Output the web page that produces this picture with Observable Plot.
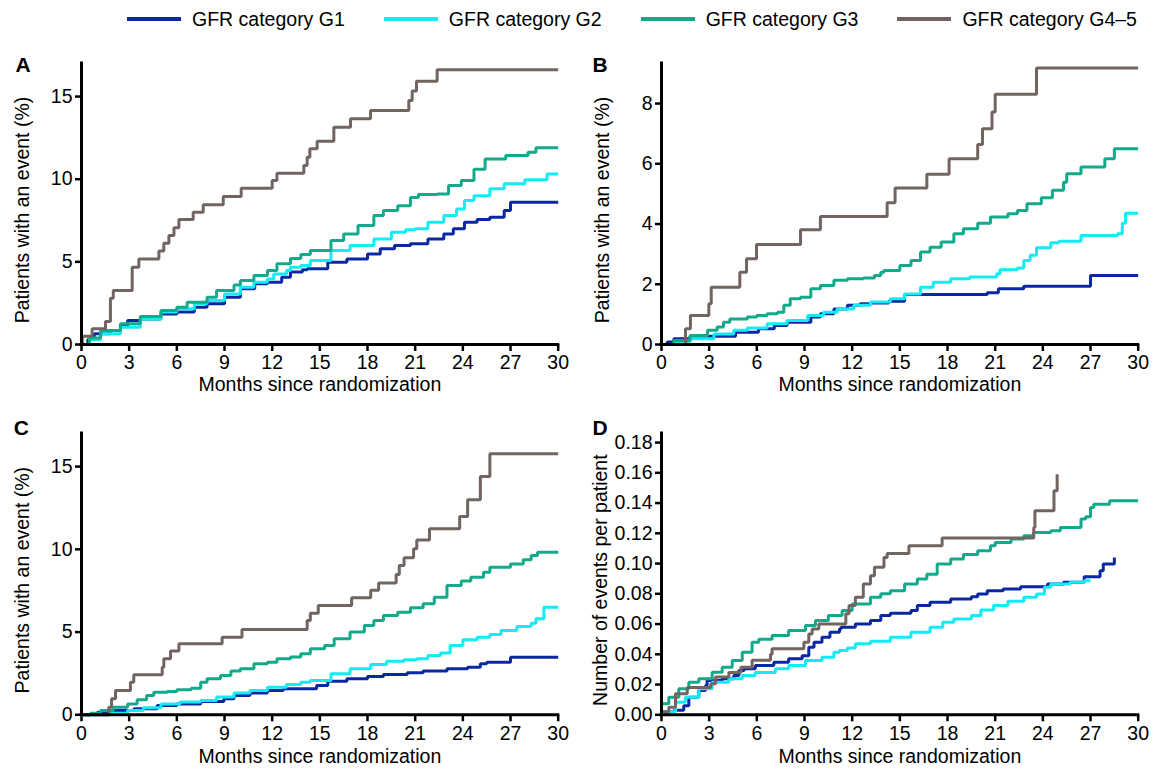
<!DOCTYPE html>
<html>
<head>
<meta charset="utf-8">
<script src="https://cdn.jsdelivr.net/npm/d3@7"></script>
<script src="https://cdn.jsdelivr.net/npm/@observablehq/plot@0.6"></script>
<style>
  html, body { margin: 0; padding: 0; background: #fff; }
  body { width: 1156px; height: 769px; position: relative; overflow: hidden;
         font-family: "Liberation Sans", Arial, sans-serif; color: #000; }
  .panel { position: absolute; }
  #legend { position: absolute; left: 127px; top: 7px; display: flex; align-items: center;
            font-size: 19.5px; line-height: 24px; white-space: nowrap; }
  .item { display: flex; align-items: center; margin-right: 39px; }
  .sw { display: inline-block; width: 54px; height: 4px; margin-right: 11px; }
</style>
</head>
<body>
<div id="legend"></div>
<div id="pA" class="panel" style="left:0px;top:40px"></div>
<div id="pB" class="panel" style="left:580px;top:40px"></div>
<div id="pC" class="panel" style="left:0px;top:410px"></div>
<div id="pD" class="panel" style="left:580px;top:410px"></div>
<script>
// ---------- categories, colors, ticks ----------
const categories = ["GFR category G1", "GFR category G2", "GFR category G3", "GFR category G4\u20135"];
const colors = ["#0b28a3", "#14ecf5", "#13a98b", "#716461"];
const xTicks = [0, 3, 6, 9, 12, 15, 18, 21, 24, 27, 30];
const xLabel = "Months since randomization";
const yLabelPct = "Patients with an event (%)";
const yLabelRate = "Number of events per patient";
const yTicksA = [0, 5, 10, 15];
const yTicksB = [0, 2, 4, 6, 8];
const yTicksC = [0, 5, 10, 15];
const yTicksD = [0, 0.02, 0.04, 0.06, 0.08, 0.10, 0.12, 0.14, 0.16, 0.18];

// ---------- Panel A: [month, %] ----------
const A_G1 = [[0,0],[0.4,0.3],[0.8,0.65],[1.8,0.85],[2.45,1.15],[2.9,1.45],[3.7,1.55],[5.0,1.85],[6.0,1.96],[7.1,2.26],[7.9,2.46],[9.0,2.86],[10.0,3.37],[10.9,3.67],[11.7,3.77],[12.6,4.07],[13.15,4.38],[13.9,4.52],[14.2,4.58],[15.5,4.98],[16.7,5.18],[18.0,5.48],[18.8,5.79],[19.7,5.99],[20.7,6.09],[21.8,6.39],[22.8,6.69],[23.4,7.0],[24.1,7.4],[24.9,7.56],[25.7,7.7],[26.6,8.1],[27.0,8.61],[30,8.61]];
const A_G2 = [[0,0],[0.5,0.3],[1.2,0.65],[2.45,1.05],[3.7,1.55],[5.0,1.96],[6.0,2.16],[7.1,2.46],[7.9,2.66],[9.0,3.06],[10.0,3.47],[10.85,3.77],[11.7,3.97],[12.1,4.27],[12.9,4.48],[13.15,4.68],[13.8,4.78],[14.4,5.08],[15.7,5.69],[16.9,5.99],[18.4,6.39],[19.5,6.79],[20.4,6.94],[21.0,7.0],[21.8,7.4],[22.8,7.8],[23.6,8.2],[24.1,8.71],[24.7,9.0],[25.7,9.42],[26.6,9.72],[27.9,9.96],[29.3,10.32],[30,10.32]];
const A_G3 = [[0,0],[0.5,0.4],[1.2,0.85],[2.45,1.25],[3.7,1.7],[5.0,2.05],[6.0,2.26],[6.65,2.56],[7.9,2.86],[8.5,3.27],[9.6,3.6],[10.0,3.87],[10.85,4.17],[11.7,4.48],[12.3,4.88],[13.15,5.2],[13.8,5.44],[14.4,5.69],[15.7,6.29],[16.5,6.69],[17.4,7.2],[18.4,7.8],[19.0,8.1],[19.9,8.4],[20.7,8.9],[21.2,9.07],[22.4,9.11],[23.1,9.62],[23.9,9.92],[24.7,10.6],[25.4,11.23],[26.7,11.43],[28.1,11.63],[28.6,11.9],[30,11.9]];
const A_G45 = [[0,0],[0.05,0.5],[0.67,0.95],[1.51,1.39],[1.82,2.8],[2.0,3.27],[3.19,4.68],[3.61,5.18],[4.87,5.65],[5.18,6.13],[5.5,6.59],[5.82,7.06],[6.13,7.56],[7.03,8.0],[7.66,8.45],[8.92,8.95],[10.05,9.46],[12.0,9.92],[12.3,10.36],[13.99,10.83],[14.2,11.33],[14.37,11.84],[14.83,12.3],[15.88,13.15],[16.93,13.65],[18.19,14.16],[20.6,14.76],[20.81,15.33],[21.08,15.93],[22.38,16.62],[30,16.62]];

// ---------- Panel B: [month, %] ----------
const B_G1 = [[0,0],[0.36,0.08],[0.78,0.19],[1.8,0.27],[4.66,0.41],[6.1,0.52],[7.1,0.63],[7.9,0.74],[9.4,0.91],[10.0,1.02],[10.85,1.18],[11.7,1.3],[12.5,1.35],[13.15,1.38],[14.3,1.44],[15.3,1.66],[20.5,1.72],[21.2,1.85],[22.8,1.93],[27.0,2.29],[30,2.29]];
const B_G2 = [[0,0],[1.0,0.1],[1.8,0.19],[3.3,0.35],[4.55,0.47],[5.4,0.55],[6.65,0.69],[7.9,0.8],[9.2,0.96],[10.2,1.07],[11.05,1.18],[12.1,1.3],[13.15,1.41],[14.4,1.52],[15.3,1.68],[16.3,1.9],[17.1,2.07],[18.2,2.18],[19.4,2.24],[21.1,2.35],[21.3,2.48],[22.4,2.54],[22.8,2.79],[23.2,2.96],[23.6,3.21],[24.5,3.38],[25.0,3.43],[26.4,3.62],[28.7,3.68],[29.0,4.03],[29.2,4.36],[30,4.36]];
const B_G3 = [[0,0],[0.78,0.13],[1.8,0.3],[2.9,0.47],[3.5,0.58],[3.9,0.74],[4.3,0.85],[5.4,0.91],[6.0,0.96],[6.65,1.02],[7.3,1.07],[7.7,1.3],[8.1,1.52],[8.75,1.57],[9.4,1.85],[10.0,1.96],[10.85,2.13],[11.7,2.18],[12.7,2.21],[13.4,2.29],[13.8,2.4],[14.0,2.46],[15.0,2.62],[15.7,2.79],[16.3,3.07],[16.9,3.23],[17.6,3.4],[18.4,3.68],[19.0,3.84],[19.9,4.03],[20.7,4.23],[21.8,4.34],[22.4,4.45],[23.0,4.67],[23.9,4.87],[24.6,5.12],[25.3,5.39],[25.5,5.67],[26.4,5.89],[27.9,6.17],[28.5,6.5],[30,6.5]];
const B_G45 = [[0,0],[1.51,0.52],[1.82,0.96],[2.98,1.35],[3.13,1.9],[4.93,2.4],[5.35,2.85],[5.98,3.32],[8.75,3.81],[10.0,4.25],[14.2,4.71],[14.7,5.2],[16.7,5.65],[18.1,6.17],[19.9,6.64],[20.2,7.16],[20.8,7.72],[21.0,8.31],[23.6,9.18],[30,9.18]];

// ---------- Panel C: [month, %] ----------
const C_G1 = [[0,0],[0.57,0.06],[1.0,0.16],[1.8,0.26],[3.3,0.36],[4.76,0.56],[6.0,0.66],[7.5,0.8],[8.96,0.97],[9.6,1.17],[10.6,1.31],[11.7,1.47],[12.7,1.57],[14.8,1.77],[15.5,2.03],[16.7,2.18],[18.0,2.32],[19.0,2.44],[20.5,2.54],[21.5,2.64],[23.0,2.78],[24.3,2.88],[25.1,3.08],[25.5,3.18],[27.0,3.48],[30,3.48]];
const C_G2 = [[0,0],[1.8,0.1],[2.9,0.26],[3.9,0.42],[5.0,0.66],[6.2,0.77],[7.5,0.87],[8.5,1.07],[9.6,1.31],[10.6,1.47],[11.7,1.67],[12.9,1.83],[13.8,1.97],[14.4,2.07],[15.7,2.48],[16.9,2.78],[18.2,3.04],[19.2,3.24],[20.3,3.32],[21.1,3.38],[21.8,3.58],[22.6,3.73],[23.2,4.19],[24.0,4.53],[24.9,4.69],[25.7,4.85],[26.4,5.1],[27.4,5.34],[28.3,5.54],[28.6,5.8],[29.1,6.5],[30,6.5]];
const C_G3 = [[0,0],[0.57,0.1],[1.2,0.26],[2.0,0.46],[2.9,0.66],[3.5,0.91],[4.1,1.17],[4.55,1.37],[5.4,1.41],[6.0,1.51],[6.9,1.61],[7.5,1.97],[7.9,2.18],[8.75,2.38],[9.4,2.64],[10.0,2.78],[10.85,3.08],[11.7,3.18],[12.3,3.38],[13.15,3.5],[13.8,3.69],[14.4,3.99],[15.3,4.19],[15.9,4.59],[16.9,5.0],[17.8,5.4],[18.4,5.7],[19.0,6.0],[19.9,6.2],[20.7,6.47],[21.5,6.71],[22.2,7.11],[23.0,7.81],[23.9,8.08],[24.5,8.32],[25.3,8.62],[25.7,8.92],[27.0,9.12],[27.8,9.37],[28.3,9.63],[28.7,9.83],[30,9.83]];
const C_G45 = [[0,0],[1.72,0.46],[1.89,0.97],[2.14,1.47],[3.08,1.97],[3.29,2.42],[5.08,2.88],[5.18,3.38],[5.6,3.85],[6.13,4.29],[8.85,4.69],[10.1,5.16],[14.2,5.7],[14.4,6.14],[14.9,6.61],[17.0,7.07],[18.2,7.52],[18.7,7.96],[19.8,8.48],[20.0,9.02],[20.3,9.49],[20.9,10.03],[21.1,10.57],[21.9,11.24],[23.8,11.98],[24.3,12.99],[25.1,14.4],[25.7,15.77],[30,15.77]];

// ---------- Panel D: [month, events per patient] ----------
const D_G1 = [[0,0.002],[0.78,0.003],[1.4,0.006],[1.72,0.0116],[2.35,0.016],[2.77,0.0194],[2.87,0.0227],[3.82,0.0238],[4.55,0.026],[4.87,0.0293],[5.2,0.0304],[5.9,0.0326],[7.07,0.0348],[8.0,0.037],[8.85,0.039],[9.27,0.0447],[9.6,0.048],[10.1,0.0513],[10.6,0.0546],[11.2,0.0568],[11.3,0.0579],[12.2,0.060],[13.15,0.0623],[13.8,0.0656],[14.4,0.0671],[15.7,0.0689],[16.1,0.0722],[16.9,0.0744],[18.2,0.0766],[19.5,0.0781],[19.9,0.0799],[20.5,0.0821],[21.5,0.0832],[22.6,0.0847],[24.3,0.0865],[25.3,0.0876],[26.6,0.0913],[27.6,0.0953],[27.8,0.0997],[28.5,0.104]];
const D_G2 = [[0,0.002],[0.88,0.0083],[1.5,0.0116],[2.35,0.0172],[3.19,0.0216],[4.24,0.0238],[5.08,0.026],[5.9,0.028],[7.17,0.0304],[8.0,0.0326],[9.06,0.0359],[10.1,0.038],[10.85,0.0414],[11.2,0.0425],[11.7,0.0442],[12.2,0.047],[13.15,0.0486],[14.4,0.0513],[15.7,0.0546],[16.9,0.0579],[17.7,0.0612],[18.4,0.0634],[19.5,0.0656],[20.1,0.0693],[20.9,0.0722],[21.8,0.075],[22.8,0.0777],[23.6,0.0799],[24.1,0.0843],[24.5,0.0865],[25.7,0.0876],[26.6,0.0887],[27.0,0.0887]];
const D_G3 = [[0,0.0073],[0.46,0.0116],[1.09,0.0172],[1.72,0.0216],[2.35,0.0238],[3.19,0.0282],[3.82,0.0315],[4.45,0.0359],[5.08,0.0414],[5.7,0.048],[6.12,0.050],[6.96,0.0524],[8.0,0.0557],[9.06,0.059],[9.69,0.0623],[10.5,0.0656],[11.37,0.069],[12.0,0.0733],[13.15,0.0777],[13.8,0.080],[14.4,0.082],[15.3,0.0865],[16.1,0.0898],[16.7,0.093],[17.35,0.0997],[18.2,0.103],[19.0,0.106],[19.9,0.1085],[20.7,0.1118],[21.0,0.114],[22.0,0.1162],[22.8,0.1184],[23.4,0.1206],[24.5,0.1217],[25.1,0.1239],[26.4,0.1294],[26.7,0.131],[27.0,0.137],[27.2,0.1393],[28.2,0.1415],[30,0.1415]];
const D_G45 = [[0,0.002],[0.46,0.005],[0.88,0.0139],[1.62,0.018],[3.1,0.0205],[3.4,0.025],[4.24,0.028],[5.0,0.0315],[5.7,0.036],[6.86,0.040],[6.96,0.0436],[8.96,0.048],[9.27,0.0535],[9.48,0.0568],[9.9,0.060],[11.6,0.0668],[11.8,0.0723],[12.2,0.0778],[12.7,0.0865],[13.15,0.092],[13.4,0.0975],[14.0,0.104],[14.2,0.1067],[15.57,0.1118],[17.66,0.1169],[23.43,0.1239],[23.5,0.1349],[24.7,0.1481],[24.9,0.159]];

// ---------- legend ----------
const legend = document.getElementById("legend");
categories.forEach((c, i) => {
  const it = document.createElement("div");
  it.className = "item";
  const sw = document.createElement("span");
  sw.className = "sw";
  sw.style.background = colors[i];
  const tx = document.createElement("span");
  tx.textContent = c;
  it.appendChild(sw); it.appendChild(tx);
  legend.appendChild(it);
});

const FONT = "'Liberation Sans', Arial, Helvetica, sans-serif";

function panel({series, width, height, marginBottom, marginRight, yDomain, yTicks, yFormat,
                yLabel, yDx, letter, letterDx, letterDy, xLabelDy}) {
  const data = series.flatMap((s, i) => s.map(([t, v]) => ({t, v, cat: categories[i]})));
  return Plot.plot({
    width, height,
    marginTop: 23, marginLeft: 81, marginRight, marginBottom,
    style: {fontFamily: FONT, fontSize: "19.5px", color: "#000", background: "transparent", overflow: "visible"},
    x: {domain: [0, 30], label: null},
    y: {domain: yDomain, label: null},
    color: {domain: categories, range: colors},
    marks: [
      Plot.axisX({ticks: xTicks, tickSize: 7, tickPadding: 4, strokeWidth: 2.5, label: null, tickFormat: d => String(d)}),
      Plot.axisY({ticks: yTicks, tickSize: 6, tickPadding: 3, strokeWidth: 2.5, label: null, tickFormat: yFormat}),
      Plot.line(data, {x: "t", y: "v", z: "cat", stroke: "cat", curve: "step-after",
                       strokeWidth: 3, strokeLinejoin: "miter", strokeLinecap: "butt"}),
      Plot.ruleX([0], {stroke: "#000", strokeWidth: 3, strokeLinecap: "square"}),
      Plot.ruleY([0], {stroke: "#000", strokeWidth: 3, strokeLinecap: "square"}),
      Plot.text([xLabel], {frameAnchor: "bottom", dy: xLabelDy, textAnchor: "middle", lineAnchor: "middle", fontSize: 19.5}),
      Plot.text([yLabel], {frameAnchor: "left", dx: yDx, dy: 6, rotate: -90, textAnchor: "middle", lineAnchor: "middle", fontSize: 19.5}),
      Plot.text([letter], {frameAnchor: "top-left", dx: letterDx, dy: letterDy, textAnchor: "start",
                           lineAnchor: "bottom", fontWeight: "bold", fontSize: 21})
    ]
  });
}

const pctFmt = d => String(d);
const rateFmt = d => d3.format(".2f")(d);

document.getElementById("pA").appendChild(panel({
  series: [A_G1, A_G2, A_G3, A_G45], width: 578, height: 354, marginBottom: 50, marginRight: 20.3,
  yDomain: [0, 17], yTicks: yTicksA, yFormat: pctFmt, yLabel: yLabelPct, yDx: -59,
  letter: "A", letterDx: -66, letterDy: 8.7, xLabelDy: 40
}));
document.getElementById("pB").appendChild(panel({
  series: [B_G1, B_G2, B_G3, B_G45], width: 576, height: 354, marginBottom: 50, marginRight: 18.3,
  yDomain: [0, 9.33], yTicks: yTicksB, yFormat: pctFmt, yLabel: yLabelPct, yDx: -58.5,
  letter: "B", letterDx: -69, letterDy: 8.7, xLabelDy: 40
}));
document.getElementById("pC").appendChild(panel({
  series: [C_G1, C_G2, C_G3, C_G45], width: 578, height: 359, marginBottom: 54.7, marginRight: 20.3,
  yDomain: [0, 17], yTicks: yTicksC, yFormat: pctFmt, yLabel: yLabelPct, yDx: -58.5,
  letter: "C", letterDx: -67.7, letterDy: 1.5, xLabelDy: 42
}));
document.getElementById("pD").appendChild(panel({
  series: [D_G1, D_G2, D_G3, D_G45], width: 576, height: 359, marginBottom: 54.7, marginRight: 18.3,
  yDomain: [0, 0.186], yTicks: yTicksD, yFormat: rateFmt, yLabel: yLabelRate, yDx: -60.5,
  letter: "D", letterDx: -69, letterDy: 1.5, xLabelDy: 42
}));
</script>
</body>
</html>
